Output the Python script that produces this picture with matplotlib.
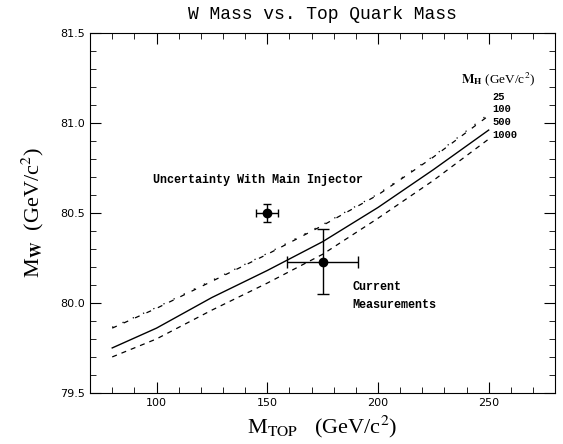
import matplotlib
matplotlib.use("Agg")
import matplotlib.pyplot as plt
from matplotlib.ticker import MultipleLocator

plt.rcParams['mathtext.fontset'] = 'stix'

# === Data ===
m_top = [80, 100, 125, 150, 175, 200, 225, 250]
mw_h25 = [79.865, 79.975, 80.125, 80.275, 80.435, 80.605, 80.815, 81.05]
mw_h100 = [79.86, 79.97, 80.12, 80.27, 80.43, 80.60, 80.81, 81.04]
mw_h500 = [79.75, 79.86, 80.03, 80.18, 80.34, 80.53, 80.74, 80.96]
mw_h1000 = [79.70, 79.80, 79.96, 80.11, 80.27, 80.47, 80.68, 80.91]
higgs_labels = ['25', '100', '500', '1000']
higgs_label_y = [81.145, 81.077, 81.003, 80.93]

# measurements: (mtop, mw, mtop_err, mw_err)
mi_point = (150, 80.50, 5, 0.05)
cur_point = (175, 80.23, 16, 0.18)

fig = plt.figure(figsize=(5.63, 4.44), dpi=100)
ax = fig.add_axes([0.16, 0.115, 0.826, 0.811])

ax.plot(m_top, mw_h25, color='k', lw=0.9, ls=(0, (1, 8)))
ax.plot(m_top, mw_h100, color='k', lw=0.9, ls=(0, (4, 6)))
ax.plot(m_top, mw_h500, color='k', lw=1.0, ls='-')
ax.plot(m_top, mw_h1000, color='k', lw=0.9, ls=(0, (4, 4)))

ax.errorbar(mi_point[0], mi_point[1], xerr=mi_point[2], yerr=mi_point[3],
            fmt='o', color='k', ms=6, capsize=3, elinewidth=1, capthick=1)
ax.errorbar(cur_point[0], cur_point[1], xerr=cur_point[2], yerr=cur_point[3],
            fmt='o', color='k', ms=6, capsize=4, elinewidth=1, capthick=1)

mono = dict(family='Liberation Mono', weight='bold', fontsize=8.5)
ax.text(98.5, 80.68, 'Uncertainty With Main Injector', va='center', **mono)
ax.text(188.5, 80.09, 'Current', va='center', **mono)
ax.text(188.5, 79.99, 'Measurements', va='center', **mono)

ax.text(237.5, 81.245, r'$\mathbf{M_H}$ (GeV/c$^2$)', fontsize=9.5, va='center',
        family='Liberation Serif')
for lab, yy in zip(higgs_labels, higgs_label_y):
    ax.text(251.5, yy, lab, fontsize=7.5, va='center', family='Liberation Mono',
            weight='bold')

ax.set_xlim(70, 280)
ax.set_ylim(79.5, 81.5)
ax.xaxis.set_major_locator(MultipleLocator(50))
ax.xaxis.set_minor_locator(MultipleLocator(10))
ax.yaxis.set_major_locator(MultipleLocator(0.5))
ax.yaxis.set_minor_locator(MultipleLocator(0.1))
ax.set_xticks([100, 150, 200, 250])
ax.tick_params(which='both', direction='in', top=True, right=True, labelsize=8)
ax.tick_params(which='major', length=8)
ax.tick_params(which='minor', length=4)
ax.yaxis.set_major_formatter(plt.FuncFormatter(lambda v, p: f'{v:.1f}'))

ax.set_xlabel(r'M$_{\rm TOP}$   (GeV/c$^2$)', fontsize=16, family='Liberation Serif')
ax.set_ylabel(r'M$_{\mathbf{W}}$  (GeV/c$^2$)', fontsize=16, family='Liberation Serif', labelpad=10)
ax.set_title('W Mass vs. Top Quark Mass', fontsize=13, family='Liberation Mono', pad=10)

fig.savefig('out.png', dpi=100)
